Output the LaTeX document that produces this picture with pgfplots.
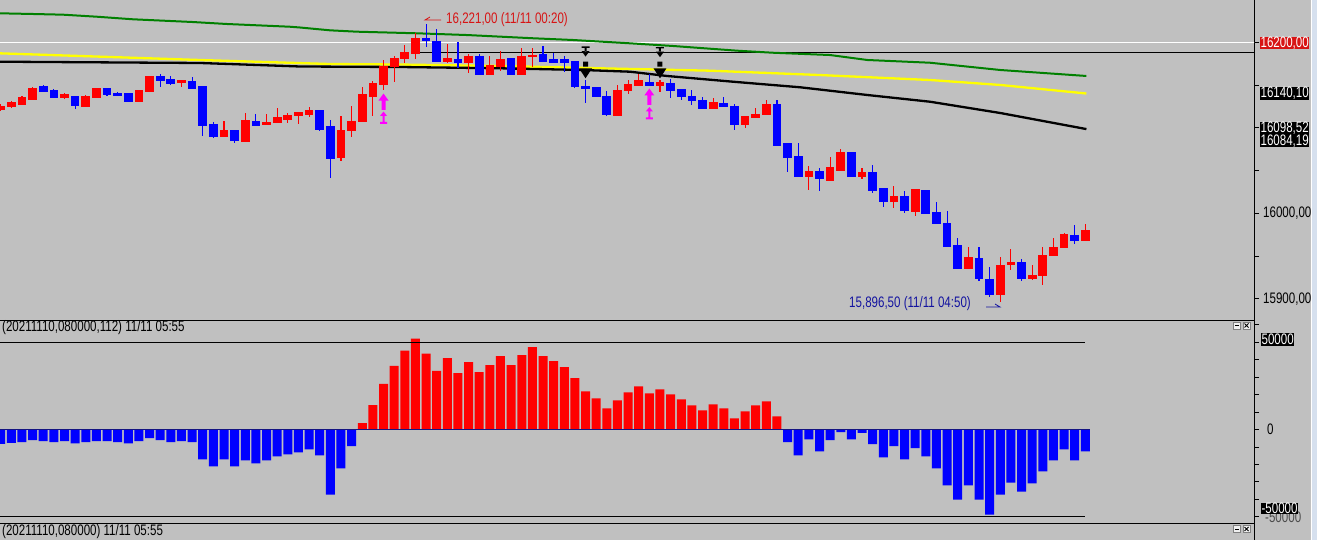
\documentclass[border=0pt]{standalone}
\usepackage{pgfplots}
\pgfplotsset{compat=1.18}
\usepackage{pgfplotstable}
\usepackage{fontspec}
\setmainfont{Liberation Sans}[FakeStretch=0.76]

\definecolor{bg}{RGB}{192,192,192}
\definecolor{upc}{RGB}{255,0,0}
\definecolor{dnc}{RGB}{0,0,255}
\definecolor{magc}{RGB}{255,0,255}
\definecolor{ma1}{RGB}{0,128,0}
\definecolor{ma2}{RGB}{255,255,0}
\definecolor{lblred}{RGB}{215,20,20}
\definecolor{navytxt}{RGB}{20,20,160}
\definecolor{zeroc}{RGB}{20,20,130}
\definecolor{sidec}{RGB}{214,224,238}

% signal marks
\pgfdeclareplotmark{bigup}{%
  \pgfpathmoveto{\pgfqpoint{0pt}{8.2pt}}%
  \pgfpathlineto{\pgfqpoint{5pt}{1.2pt}}%
  \pgfpathlineto{\pgfqpoint{2pt}{1.2pt}}%
  \pgfpathlineto{\pgfqpoint{2pt}{-8.2pt}}%
  \pgfpathlineto{\pgfqpoint{-2pt}{-8.2pt}}%
  \pgfpathlineto{\pgfqpoint{-2pt}{1.2pt}}%
  \pgfpathlineto{\pgfqpoint{-5pt}{1.2pt}}%
  \pgfpathclose\pgfusepathqfill}
\pgfdeclareplotmark{smallup}{%
  \pgfpathmoveto{\pgfqpoint{0pt}{6.2pt}}%
  \pgfpathlineto{\pgfqpoint{3.5pt}{1.9pt}}%
  \pgfpathlineto{\pgfqpoint{-3.5pt}{1.9pt}}%
  \pgfpathclose
  \pgfpathrectangle{\pgfqpoint{-1pt}{-4.3pt}}{\pgfqpoint{2pt}{6.3pt}}%
  \pgfpathrectangle{\pgfqpoint{-3.5pt}{-6.2pt}}{\pgfqpoint{7pt}{2pt}}%
  \pgfusepathqfill}
\pgfdeclareplotmark{tdown}{%
  \pgfpathrectangle{\pgfqpoint{-4pt}{3.7pt}}{\pgfqpoint{8pt}{1.4pt}}%
  \pgfpathrectangle{\pgfqpoint{-1pt}{0pt}}{\pgfqpoint{2pt}{3.7pt}}%
  \pgfpathmoveto{\pgfqpoint{-4pt}{0.5pt}}%
  \pgfpathlineto{\pgfqpoint{4pt}{0.5pt}}%
  \pgfpathlineto{\pgfqpoint{0pt}{-5pt}}%
  \pgfpathclose\pgfusepathqfill}
\pgfdeclareplotmark{bigdown}{%
  \pgfpathrectangle{\pgfqpoint{-2.5pt}{3.3pt}}{\pgfqpoint{5pt}{5pt}}%
  \pgfpathmoveto{\pgfqpoint{-6.5pt}{1.7pt}}%
  \pgfpathlineto{\pgfqpoint{6.5pt}{1.7pt}}%
  \pgfpathlineto{\pgfqpoint{0pt}{-8.3pt}}%
  \pgfpathclose\pgfusepathqfill}

% rising candles (red): bar, open, high, low, close
\pgfplotstableread{
k O H L C
0 16122.0 16127.8 16119.6 16125.5
1 16124.7 16131.7 16122.8 16129.3
2 16127.5 16137.2 16126.7 16135.2
3 16133.7 16147.4 16133.7 16146.2
6 16135.2 16140.3 16133.3 16138.4
8 16125.5 16138.4 16124.7 16136.4
9 16135.2 16146.9 16134.8 16145.7
13 16131.3 16144.8 16131.3 16144.2
14 16142.2 16160.6 16142.2 16159.8
17 16152.7 16155.9 16148.1 16155.9
21 16089.6 16108.3 16089.6 16097.4
23 16083.7 16116.9 16083.7 16109.1
25 16104.1 16116.1 16104.1 16106.8
26 16106.0 16123.5 16106.0 16111.8
27 16110.3 16117.6 16106.0 16114.1
28 16114.1 16118.5 16104.4 16117.6
29 16115.8 16124.3 16113.0 16120.8
32 16065.0 16113.8 16061.5 16097.4
33 16096.6 16125.5 16088.9 16106.8
34 16107.1 16148.1 16107.1 16138.4
35 16137.2 16154.7 16113.8 16152.4
36 16151.2 16179.3 16144.2 16172.3
37 16172.3 16184.0 16153.6 16181.6
38 16180.5 16196.8 16175.4 16187.5
39 16187.5 16210.5 16180.1 16205.0
42 16178.1 16197.7 16175.4 16180.8
44 16176.1 16186.0 16164.4 16183.2
46 16162.9 16184.0 16162.9 16172.3
47 16172.3 16190.2 16166.8 16180.1
49 16162.9 16193.7 16162.9 16184.0
50 16183.2 16193.0 16171.5 16185.2
58 16115.0 16150.1 16115.0 16144.2
59 16143.4 16155.9 16139.5 16151.2
60 16150.1 16162.9 16150.1 16155.1
62 16149.7 16155.9 16142.2 16152.7
67 16122.3 16135.2 16122.3 16129.3
70 16104.4 16113.8 16099.4 16113.8
71 16112.3 16122.8 16112.3 16116.1
72 16115.0 16132.5 16115.0 16127.8
76 16042.8 16055.3 16027.2 16048.7
78 16038.9 16066.2 16038.9 16053.3
79 16050.6 16075.2 16050.6 16070.9
81 16042.8 16052.6 16039.8 16047.5
84 16013.6 16032.3 16005.8 16020.2
86 16001.9 16028.1 15996.8 16028.1
91 15935.7 15960.9 15935.7 15948.5
94 15905.6 15948.5 15896.5 15939.5
95 15939.9 15957.9 15933.7 15942.7
97 15923.5 15939.5 15922.0 15927.8
98 15927.0 15960.2 15916.1 15951.2
99 15951.2 15970.8 15951.2 15960.2
100 15960.2 15977.3 15960.2 15975.8
102 15967.9 15987.5 15967.9 15980.5
}\upbars

% falling candles (blue)
\pgfplotstableread{
k O H L C
4 16148.1 16150.1 16141.9 16142.2
5 16143.4 16145.4 16134.5 16135.7
7 16137.2 16137.8 16122.0 16126.7
10 16145.7 16146.5 16137.5 16139.5
11 16140.7 16142.2 16136.8 16137.5
12 16140.7 16141.3 16131.3 16131.3
15 16159.8 16162.9 16148.1 16155.1
16 16157.1 16160.6 16150.1 16152.4
18 16154.7 16159.8 16145.0 16146.2
19 16148.1 16148.1 16090.4 16103.3
20 16104.4 16106.4 16087.7 16089.6
22 16097.4 16097.4 16081.9 16084.9
24 16107.9 16116.1 16103.3 16103.3
30 16120.8 16120.8 16096.6 16098.6
31 16101.3 16109.1 16040.9 16063.9
40 16204.7 16221.0 16194.9 16201.9
41 16201.2 16215.2 16178.1 16178.1
43 16180.1 16200.7 16169.6 16176.1
45 16183.2 16186.0 16162.9 16162.9
48 16180.8 16180.8 16162.9 16162.9
51 16185.2 16195.7 16178.1 16178.1
52 16179.3 16187.1 16176.1 16176.1
53 16179.3 16184.0 16165.6 16176.1
54 16177.3 16177.3 16146.2 16148.1
55 16148.9 16155.9 16129.4 16145.7
56 16147.4 16147.4 16136.0 16136.4
57 16137.2 16143.0 16113.8 16116.1
61 16153.6 16162.9 16149.2 16149.2
63 16152.0 16156.7 16135.2 16143.4
64 16144.2 16144.2 16132.5 16136.4
65 16137.2 16144.2 16126.7 16131.7
66 16132.5 16135.7 16122.3 16122.3
68 16128.6 16135.7 16125.5 16125.5
69 16125.5 16127.8 16097.4 16104.4
73 16127.8 16132.5 16079.9 16079.9
74 16081.1 16081.1 16048.7 16065.0
75 16067.0 16082.6 16042.8 16042.8
77 16048.7 16053.3 16026.4 16040.5
80 16070.9 16072.0 16042.8 16042.8
82 16047.5 16056.5 16023.4 16027.2
83 16029.2 16029.2 16007.7 16013.6
85 16020.2 16026.1 15999.9 16003.0
87 16027.2 16027.2 15999.2 15999.2
88 16001.5 16012.9 15988.3 15988.3
89 15988.3 16003.0 15960.9 15960.9
90 15962.6 15970.8 15935.7 15935.7
92 15947.7 15960.9 15921.2 15923.5
93 15922.8 15937.5 15901.7 15905.6
96 15942.7 15946.2 15921.2 15923.5
101 15974.3 15986.3 15964.1 15967.9
}\downbars

% moving averages
\pgfplotstableread{
k P
-0.07 16233.9
3.04 16233.1
5.86 16232.3
9.06 16229.9
12.44 16226.9
18.08 16223.7
21.28 16221.4
27.2 16218.2
28.15 16217.3
30.97 16214.0
33.5 16212.4
39.2 16210.5
43.85 16208.5
50.1 16204.7
53.8 16202.7
59.2 16198.8
63.2 16195.7
69.24 16190.2
72.6 16187.8
78.0 16185.1
81.5 16179.3
87.4 16176.1
94.0 16167.6
102.1 16160.6
}\magreen
\pgfplotstableread{
k P
-0.07 16187.1
9.34 16183.2
18.74 16179.3
30.97 16174.6
37.55 16174.0
46.95 16172.3
56.36 16169.6
66.7 16166.8
77.05 16161.7
87.4 16155.9
94.0 16150.1
102.1 16140.1
}\mayellow
\pgfplotstableread{
k P
-0.07 16177.3
18.74 16175.8
28.15 16171.7
37.55 16171.1
46.95 16169.6
54.76 16167.6
59.18 16165.6
62.66 16160.6
68.86 16153.9
75.17 16147.4
81.47 16138.4
87.39 16130.5
94.0 16117.3
102.1 16098.5
}\mablack

\pgfplotsset{
  panel/.style={
    scale only axis, width=1254pt,
    xmin=-0.066, xmax=117.86,
    axis x line*=bottom, axis y line*=right,
    axis line style={-, black, line width=1pt},
    xtick=\empty, yticklabels={}, scaled y ticks=false,
    tick align=outside, major tick length=5pt,
    tick style={black, line width=0.8pt},
  },
  candle/.style={draw=none, mark=none, forget plot,
    error bars/.cd, y dir=both, y explicit, error mark=none,
    error bar style={draw=#1, line width=1.1pt}},
  body/.style={draw=none, mark=none, forget plot,
    error bars/.cd, y dir=both, y explicit, error mark=none,
    error bar style={draw=#1, line width=8.7pt}},
}

\begin{document}
\begin{tikzpicture}[x=1pt, y=1pt, font=\fontsize{15.2}{17}\selectfont]
\useasboundingbox (0,0) rectangle (1317,-540);
\clip (0,0) rectangle (1317,-540);
\fill[bg] (0,0) rectangle (1317,-540);
\fill[sidec] (1311,0) rectangle (1317,-540);
\draw[white, line width=1pt] (1311.5,0) -- (1311.5,-540);

% price panel
\begin{axis}[panel,
  at={(0pt,0pt)}, anchor=north west, height=320pt,
  ymin=15875.2, ymax=16249.47,
  ytick={15900,15950,...,16200},
  clip mode=individual,
]
\addplot[white, line width=1.2pt] coordinates {(-1,16200) (118,16200)};
\addplot[black, line width=0.8pt] coordinates {(39.3,16187.6) (118,16187.6)};
\addplot[ma1, line width=2pt] table[x=k, y=P] {\magreen};
\addplot[ma2, line width=2.3pt] table[x=k, y=P] {\mayellow};
\addplot[black, line width=2.3pt] table[x=k, y=P] {\mablack};
% wicks
\addplot[candle=upc]
  table[x=k, y expr={(\thisrow{H}+\thisrow{L})/2}, y error expr={(\thisrow{H}-\thisrow{L})/2}] {\upbars};
\addplot[candle=dnc]
  table[x=k, y expr={(\thisrow{H}+\thisrow{L})/2}, y error expr={(\thisrow{H}-\thisrow{L})/2}] {\downbars};
% bodies
\addplot[body=upc]
  table[x=k, y expr={(\thisrow{O}+\thisrow{C})/2}, y error expr={abs(\thisrow{C}-\thisrow{O})/2+0.6}] {\upbars};
\addplot[body=dnc]
  table[x=k, y expr={(\thisrow{O}+\thisrow{C})/2}, y error expr={abs(\thisrow{C}-\thisrow{O})/2+0.6}] {\downbars};
% signals
\addplot[only marks, magc, mark=bigup] coordinates {(36,16130.5) (61,16136.4)};
\addplot[only marks, magc, mark=smallup] coordinates {(36,16111.7) (61,16117.0)};
\addplot[only marks, black, mark=tdown] coordinates {(55,16189.2) (62,16188.5)};
\addplot[only marks, black, mark=bigdown] coordinates {(55,16167.6) (62,16167.6)};
\end{axis}

% oscillator panel
\begin{axis}[panel,
  at={(0pt,-320pt)}, anchor=north west, height=204pt,
  ymin=-54196, ymax=62798,
  ytick={-50000,-40000,...,60000},
]
\addplot[ybar, bar width=9pt, bar shift=0pt, fill=upc, draw=none] coordinates {
(34,3650) (35,14000) (36,26150) (37,36500) (38,45200) (39,52100) (40,43450)
(41,33650) (42,40950) (43,32300) (44,38650) (45,32900) (46,36900) (47,42100)
(48,36900) (49,42700) (50,47300) (51,42100) (52,39200) (53,35750) (54,29400)
(55,21900) (56,17900) (57,12100) (58,16700) (59,21350) (60,24800) (61,20750)
(62,23050) (63,20200) (64,17300) (65,13850) (66,10950) (67,14400) (68,12100)
(69,6350) (70,10400) (71,13850) (72,16150) (73,7500)};
\addplot[ybar, bar width=9pt, bar shift=0pt, fill=dnc, draw=none] coordinates {
(0,-8270) (1,-7700) (2,-7300) (3,-6150) (4,-6700) (5,-7300) (6,-6700)
(7,-7900) (8,-7300) (9,-6700) (10,-6700) (11,-7300) (12,-7900) (13,-6700)
(14,-5000) (15,-6150) (16,-7300) (17,-6700) (18,-7300) (19,-17100) (20,-21150)
(21,-17100) (22,-21150) (23,-17700) (24,-19400) (25,-17700) (26,-15400)
(27,-14200) (28,-13100) (29,-11350) (30,-14800) (31,-37300) (32,-22300)
(33,-9600)
(74,-7300) (75,-14800) (76,-5600) (77,-12500) (78,-6150) (79,-1550) (80,-5600)
(81,-1900) (82,-8450) (83,-15950) (84,-9600) (85,-17100) (86,-10750)
(87,-15400) (88,-22300) (89,-32100) (90,-40200) (91,-32100) (92,-40200)
(93,-48850) (94,-37300) (95,-30400) (96,-35600) (97,-30950) (98,-24050)
(99,-17700) (100,-11350) (101,-17700) (102,-12500)};
\addplot[zeroc, line width=1pt] coordinates {(-0.1,0) (102.4,0)};
\addplot[black, line width=1pt] coordinates {(-0.1,50000) (102,50000)};
\addplot[black, line width=1pt] coordinates {(-0.1,-50000) (102,-50000)};
\end{axis}

\draw[black, line width=1pt] (1254,-524) -- (1254,-540);

% texts, panel headers
\node[anchor=west, inner sep=0] at (2,-328) {(20211110,080000,112) 11/11 05:55};
\node[anchor=west, inner sep=0] at (2,-532) {(20211110,080000) 11/11 05:55};

% high / low notes
\node[anchor=west, inner sep=0, text=lblred] at (446,-20) {16,221,00 (11/11 00:20)};
\draw[lblred, line width=0.8pt] (441,-20) -- (425,-20) -- (430,-17);
\node[anchor=west, inner sep=0, text=navytxt] at (849,-304) {15,896,50 (11/11 04:50)};
\draw[navytxt, line width=0.8pt] (986,-307) -- (1000,-307) -- (995,-304);

% price scale labels
\node[anchor=west, inner sep=0] at (1263,-213.3) {16000,00};
\node[anchor=west, inner sep=0] at (1263,-299) {15900,00};
\node[anchor=west, fill=lblred, text=white, inner xsep=0.4pt, inner ysep=0pt, minimum height=12.5pt] at (1260,-43) {16200,00};
\node[anchor=west, fill=black, text=white, inner xsep=0.4pt, inner ysep=0pt, minimum height=12pt] at (1260,-93.3) {16140,10};
\node[anchor=west, fill=black, text=white, inner xsep=0.4pt, inner ysep=0pt, minimum height=11.5pt] at (1260,-128.3) {16098,52};
\node[anchor=west, fill=black, text=white, inner xsep=0.4pt, inner ysep=0pt, minimum height=12pt] at (1260,-141.2) {16084,19};

% oscillator scale labels
\node[anchor=west, inner sep=0] at (1267,-429) {0};
\node[anchor=west, inner sep=0, text=black!70] at (1265,-517) {-50000};
\node[anchor=west, fill=black, text=white, inner xsep=0.4pt, inner ysep=0pt, minimum height=13pt] at (1261,-339) {50000};
\node[anchor=west, fill=black, text=white, inner xsep=0.4pt, inner ysep=0pt, minimum height=11pt] at (1261,-508) {-50000};

% window buttons
\foreach \yy in {322,525.5} {
  \draw[gray, fill=white!88!gray, line width=0.6pt] (1233.5,-\yy) rectangle ++(7,-7);
  \draw[gray, fill=white!88!gray, line width=0.6pt] (1243,-\yy) rectangle ++(7,-7);
  \draw[black, line width=1pt] (1235,-\yy-3.5) -- (1239,-\yy-3.5);
  \draw[black, line width=0.8pt] (1244.5,-\yy-1.5) -- (1248.5,-\yy-5.5) (1244.5,-\yy-5.5) -- (1248.5,-\yy-1.5);
}
\end{tikzpicture}
\end{document}
